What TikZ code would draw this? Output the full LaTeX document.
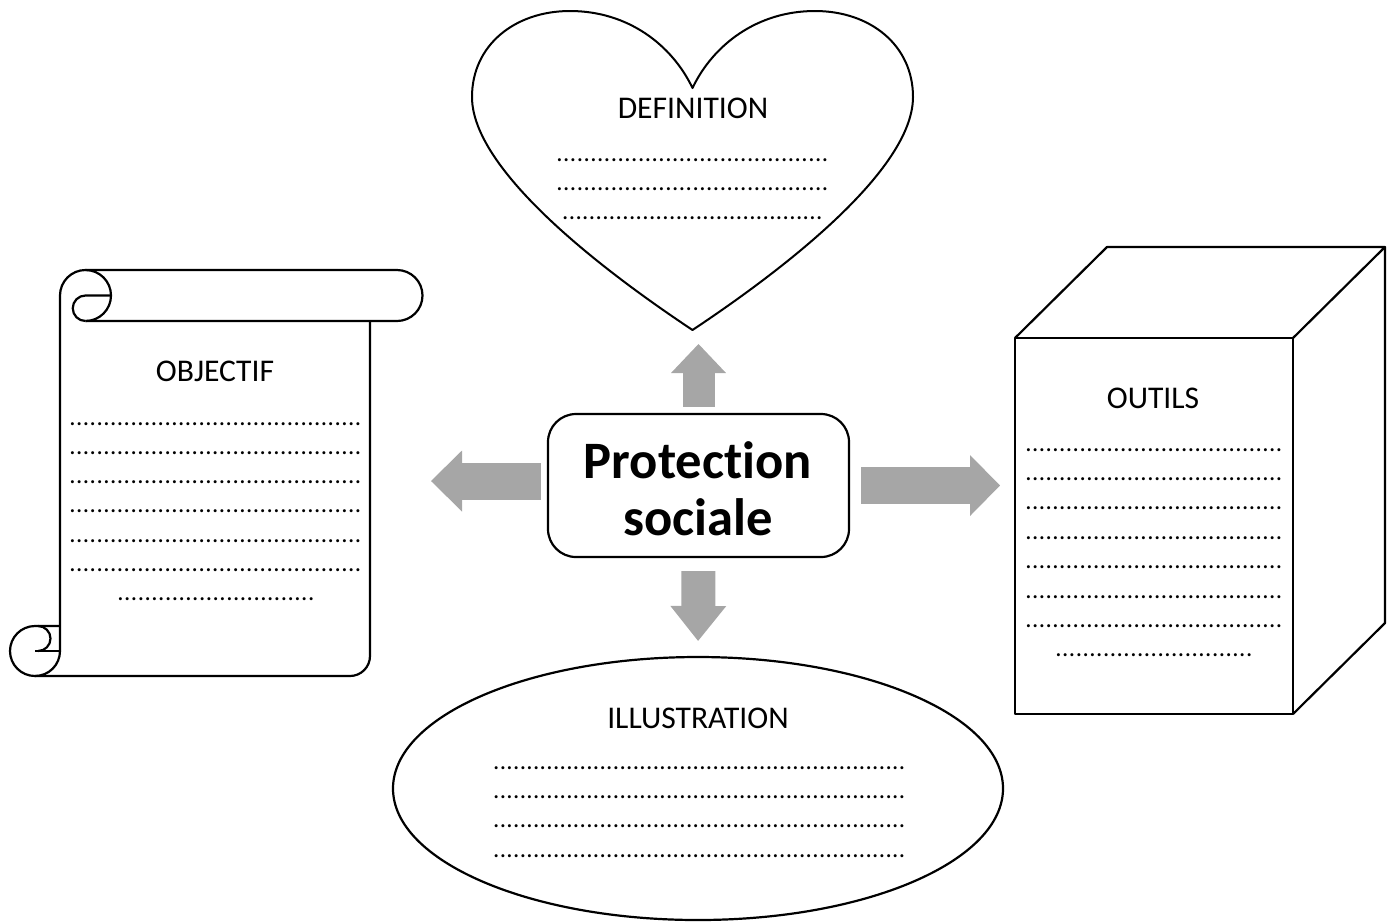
\documentclass[tikz,border=0pt]{standalone}
\usepackage{fontspec}
\setmainfont{Carlito}[Ligatures=NoCommon]
\usetikzlibrary{arrows.meta,shapes.geometric}
\definecolor{arrowgray}{HTML}{A6A6A6}
% a row of dots of the given width (in pt)
\newcommand{\dotrow}[1]{\hbox to #1pt{\xleaders\hbox to 3.33pt{\hss.\hss}\hfil}}

\begin{document}
\begin{tikzpicture}[x=0.5pt,y=-0.5pt,
  outline/.style={draw=black,line width=1.1pt,line join=round},
  heading/.style={font=\fontsize{15.8}{19}\selectfont,inner sep=0pt},
  dots/.style={font=\fontsize{12.5}{14}\selectfont,inner sep=0pt},
  grayarrow/.style n args={3}{draw=arrowgray,line width=#1,
    -{Triangle[width=#2,length=#3,line width=0pt]}}]
\useasboundingbox (0,0) rectangle (1392,923);

% ---------- heart: DEFINITION ----------
\draw[outline,line width=1pt]
  (692.5,330) .. controls (640,295) and (472,180) .. (472,97)
  .. controls (472,45) and (515,11) .. (570,11)
  .. controls (628,11) and (672,45) .. (692.5,88)
  .. controls (713,45) and (757,11) .. (815,11)
  .. controls (870,11) and (913,45) .. (913,97)
  .. controls (913,180) and (745,295) .. (692.5,330) -- cycle;
\coordinate (heartbot) at (692.5,330);
\node[heading] (defT) at (693,108) {DEFINITION};
\node[dots] (def1) at (692.5,160) {\dotrow{136.5}};
\node[dots] (def2) at (692.5,189) {\dotrow{136.5}};
\node[dots] (def3) at (692.5,218) {\dotrow{130.5}};

% ---------- scroll: OBJECTIF ----------
\draw[outline] (60,651) -- (60,295.5)
  arc[start angle=180,end angle=270,radius=25.5] -- (397,270)
  arc[start angle=-90,end angle=90,radius=25.5] -- (85.5,321);
\draw[outline] (85.5,270) arc[start angle=-90,end angle=90,radius=25.5];
\draw[outline] (111,295.5) -- (85.5,295.5)
  arc[start angle=-90,end angle=-270,radius=12.75];
\draw[outline] (370,321) -- (370,656)
  arc[start angle=0,end angle=90,radius=20] -- (35,676)
  arc[start angle=90,end angle=270,radius=25] -- (60,626);
\draw[outline] (35,676) arc[start angle=90,end angle=0,radius=25];
\draw[outline] (35,651) -- (60,651);
\draw[outline] (38,626) arc[start angle=-90,end angle=90,radius=12.5];
\coordinate (scrollR) at (370,481);
\node[heading] (objT) at (215,371) {OBJECTIF};
\foreach \y [count=\i] in {424,453,482,511,541,570}
  \node[dots] (obj\i) at (215.5,\y) {\dotrow{146.5}};
\node[dots] (obj7) at (216,599) {\dotrow{99}};

% ---------- box: OUTILS ----------
\draw[outline] (1015,338) rectangle (1293,714);
\draw[outline] (1015,338) -- (1107,247) -- (1385,247) -- (1293,338);
\draw[outline] (1385,247) -- (1385,623) -- (1293,714);
\coordinate (cubeL) at (1015,485.5);
\node[heading] (outT) at (1153,398) {OUTILS};
\foreach \y [count=\i] in {450,479,508,538,567,597,626}
  \node[dots] (out\i) at (1154,\y) {\dotrow{129}};
\node[dots] (out8) at (1154,655) {\dotrow{99}};

% ---------- ellipse: ILLUSTRATION ----------
\node[outline,ellipse,minimum width=305pt,minimum height=131.5pt,inner sep=0pt]
  (ell) at (698,788.5) {};
\node[heading] (illT) at (698,718) {ILLUSTRATION};
\foreach \y [count=\i] in {768,797,826,856}
  \node[dots] (ill\i) at (699.5,\y) {\dotrow{206.5}};

% ---------- central box ----------
\node[outline,rounded corners=14pt,minimum width=150.5pt,minimum height=71.5pt,
  inner sep=0pt] (box) at (698.5,485.5) {};
\node[font=\bfseries\fontsize{26.3}{28.5}\selectfont,align=center,inner sep=0pt]
  (title) at (698,488.5) {Protec\kern0pt t\kern0pt ion\\sociale};

% ---------- block arrows ----------
\draw[grayarrow={16pt}{27.5pt}{14.5pt},shorten <=3pt,shorten >=7pt]
  (box.north) -- (box.north |- heartbot);
\draw[grayarrow={17pt}{28pt}{17.5pt},shorten <=6.5pt,shorten >=7.5pt]
  (box.south) -- (ell.north);
\draw[grayarrow={18.5pt}{30.5pt}{15.5pt},shorten <=3pt,shorten >=30.5pt]
  ([yshift=2.25pt]box.west) -- (scrollR);
\draw[grayarrow={18.5pt}{30.5pt}{15pt},shorten <=5.5pt,shorten >=7.5pt]
  (box.east) -- (cubeL);
\end{tikzpicture}
\end{document}
